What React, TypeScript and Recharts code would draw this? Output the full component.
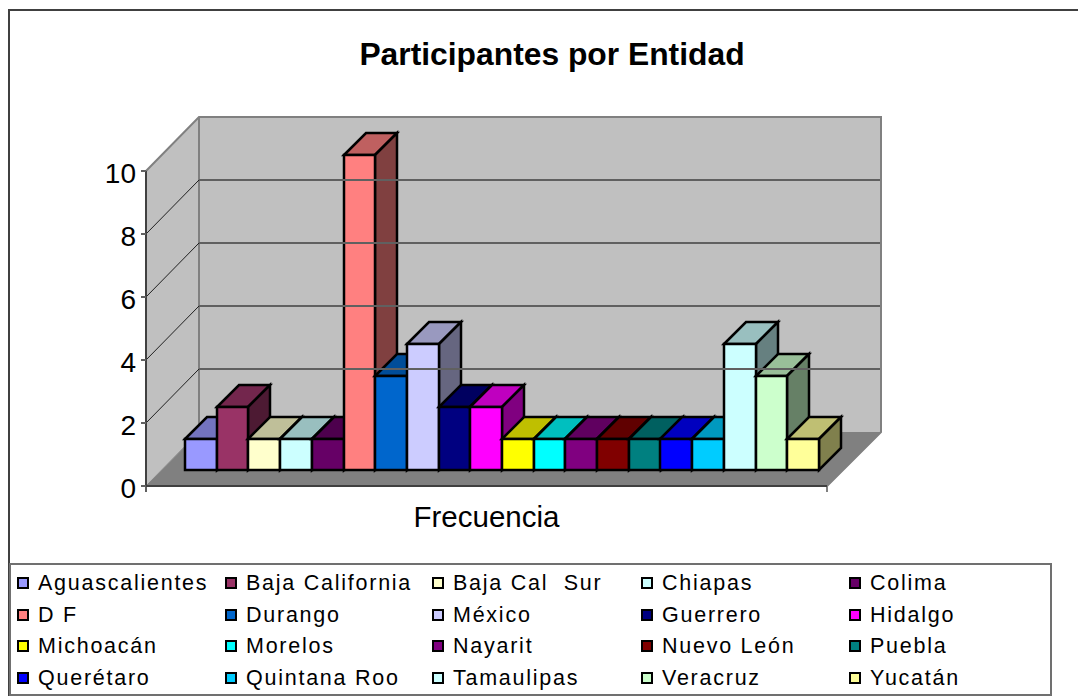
import React from 'react';
import { BarChart, Bar, XAxis, YAxis, Legend, ReferenceArea, ReferenceLine } from 'recharts';

const ENTITIES = [
  'Aguascalientes', 'Baja California', 'Baja Cal  Sur', 'Chiapas', 'Colima',
  'D F', 'Durango', 'México', 'Guerrero', 'Hidalgo',
  'Michoacán', 'Morelos', 'Nayarit', 'Nuevo León', 'Puebla',
  'Querétaro', 'Quintana Roo', 'Tamaulipas', 'Veracruz', 'Yucatán',
];
const VALUES = [1, 2, 1, 1, 1, 10, 3, 4, 2, 2, 1, 1, 1, 1, 1, 1, 1, 4, 3, 1];
const COLORS = [
  '#9999FF', '#993366', '#FFFFCC', '#CCFFFF', '#660066',
  '#FF8080', '#0066CC', '#CCCCFF', '#000080', '#FF00FF',
  '#FFFF00', '#00FFFF', '#800080', '#800000', '#008080',
  '#0000FF', '#00CCFF', '#CCFFFF', '#CCFFCC', '#FFFF99',
];
const Y_TICKS = [0, 2, 4, 6, 8, 10];
const CATEGORY = 'Frecuencia';

const FONT = '"Liberation Sans", Arial, sans-serif';
const chartData = [
  ENTITIES.reduce((row: any, name, i) => {
    row[name] = VALUES[i];
    return row;
  }, { cat: CATEGORY }),
];

// fake 3D: wall depth and the offset of the bars into the box
const WALL_DX = 53;
const WALL_DY = 54;
const BAR_DX = 22;
const BAR_DY = 22;
const BAR_SHIFT_X = 15;
const BAR_SHIFT_Y = 16;

const LEGEND_COLS = [17, 225, 432, 641, 849];
const LEGEND_ROWS = [584, 616, 647, 679];

const shade = (hex: string, k: number) => {
  const n = parseInt(hex.slice(1), 16);
  const c = [(n >> 16) & 255, (n >> 8) & 255, n & 255].map((v) => Math.round(v * k));
  return `rgb(${c.join(',')})`;
};

const Box3D = (props: any) => {
  const { x, y, width, height, fill } = props;
  const l = Math.round(x + BAR_SHIFT_X);
  const r = Math.round(x + width + BAR_SHIFT_X);
  const t = Math.round(y - BAR_SHIFT_Y);
  const b = Math.round(y + height - BAR_SHIFT_Y);
  const common = { stroke: '#000', strokeWidth: 2.5, strokeLinejoin: 'miter' as const };
  return (
    <g>
      <polygon points={`${l},${t} ${l + BAR_DX},${t - BAR_DY} ${r + BAR_DX},${t - BAR_DY} ${r},${t}`} fill={shade(fill, 0.75)} {...common} />
      <polygon points={`${r},${t} ${r + BAR_DX},${t - BAR_DY} ${r + BAR_DX},${b - BAR_DY} ${r},${b}`} fill={shade(fill, 0.5)} {...common} />
      <rect x={l} y={t} width={r - l} height={b - t} fill={fill} {...common} />
    </g>
  );
};

// walls and floor of the box, from the area the value axis spans
const Walls = (props: any) => {
  const { x, y, width, height } = props;
  const r = x + width;
  const b = y + height;
  const bx = x + WALL_DX;
  const by = b - WALL_DY;
  const ty = y - WALL_DY;
  const brx = r + WALL_DX + 1;
  return (
    <g>
      <polygon points={`${x},${b} ${bx},${by} ${brx},${by} ${r},${b}`} fill="#808080" />
      <polygon points={`${x},${y} ${bx},${ty} ${bx},${by} ${x},${b}`} fill="#C0C0C0" />
      <rect x={bx} y={ty} width={brx - bx} height={by - ty} fill="#C0C0C0" />
      <polyline points={`${x},${y} ${bx},${ty} ${brx},${ty} ${brx},${by} ${r},${b}`} fill="none" stroke="#808080" strokeWidth={2} />
      <line x1={bx} y1={ty} x2={bx} y2={by} stroke="#808080" strokeWidth={2} />
      <line x1={x} y1={b} x2={bx} y2={by} stroke="#808080" strokeWidth={1} />
      <line x1={x} y1={b} x2={x} y2={b + 6} stroke="#606060" strokeWidth={2} />
      <line x1={r} y1={b} x2={r} y2={b + 6} stroke="#808080" strokeWidth={2} />
    </g>
  );
};

const GridLine = (props: any) => {
  const { x1, x2, y1 } = props;
  return (
    <g>
      <line x1={x1} y1={y1} x2={x1 + WALL_DX} y2={y1 - WALL_DY} stroke="#202020" strokeWidth={1} />
      <line x1={x1 + WALL_DX} y1={y1 - WALL_DY} x2={x2 + WALL_DX} y2={y1 - WALL_DY} stroke="#606060" strokeWidth={2} />
    </g>
  );
};

const LegendBox = (props: any) => (
  <div style={{ position: 'relative', width: 1039, height: 129 }}>
    {(props.payload || []).map((item: any, i: number) => {
      const left = LEGEND_COLS[i % 5] - 11;
      const mid = LEGEND_ROWS[Math.floor(i / 5)] - 565;
      return (
        <div key={item.value}>
          <div
            style={{
              position: 'absolute', left, top: mid - 7, width: 8, height: 8,
              border: '2px solid #000', background: COLORS[i],
            }}
          />
          <div
            style={{
              position: 'absolute', left: left + 21, top: mid - 13, lineHeight: '24px',
              fontFamily: FONT, fontSize: 21.5, letterSpacing: 1.75, whiteSpace: 'pre', color: '#000',
            }}
          >
            {item.value}
          </div>
        </div>
      );
    })}
  </div>
);

export default function App() {
  return (
    <div style={{ position: 'absolute', left: 0, top: 0, width: 1078, height: 696, background: '#fff', overflow: 'hidden' }}>
      <div style={{ position: 'absolute', left: 8, top: 9, width: 1070, height: 687, borderLeft: '2px solid #404040', borderTop: '2px solid #404040', boxSizing: 'border-box' }} />
      <div
        style={{
          position: 'absolute', left: 10, width: 1084, top: 36, textAlign: 'center', lineHeight: '36px',
          fontFamily: FONT, fontWeight: 700, fontSize: 31.8, color: '#000',
        }}
      >
        Participantes por Entidad
      </div>
      <BarChart
        width={1078}
        height={696}
        data={chartData}
        margin={{ top: 171, right: 251, bottom: 150, left: 0 }}
        barGap={0}
        barSize={31.7}
        style={{ position: 'absolute', left: 0, top: 0 }}
      >
        <XAxis
          dataKey="cat"
          height={60}
          tickLine={false}
          axisLine={{ stroke: '#404040', strokeWidth: 2 }}
          tick={{ fontFamily: FONT, fontSize: 29.5, fill: '#000' }}
          tickMargin={14}
        />
        <YAxis
          width={146}
          domain={[0, 10]}
          ticks={Y_TICKS}
          interval={0}
          tickSize={5}
          tickMargin={5}
          tickLine={{ stroke: '#606060', strokeWidth: 2 }}
          axisLine={{ stroke: '#404040', strokeWidth: 2 }}
          tick={{ fontFamily: FONT, fontSize: 28, fill: '#000', dy: 2 }}
        />
        <ReferenceArea y1={0} y2={10} shape={Walls} />
        {Y_TICKS.slice(1, -1).map((v) => (
          <ReferenceLine key={v} y={v} shape={GridLine} />
        ))}
        {ENTITIES.map((name, i) => (
          <Bar key={name} dataKey={name} name={name} fill={COLORS[i]} shape={Box3D} isAnimationActive={false} />
        ))}
        <Legend
          layout="horizontal"
          verticalAlign="middle"
          align="center"
          itemSorter={null}
          content={LegendBox}
          wrapperStyle={{
            position: 'absolute', left: 9, top: 563, width: 1043, height: 133,
            border: '2px solid #707070', boxSizing: 'border-box', background: '#fff',
          }}
        />
      </BarChart>
    </div>
  );
}
